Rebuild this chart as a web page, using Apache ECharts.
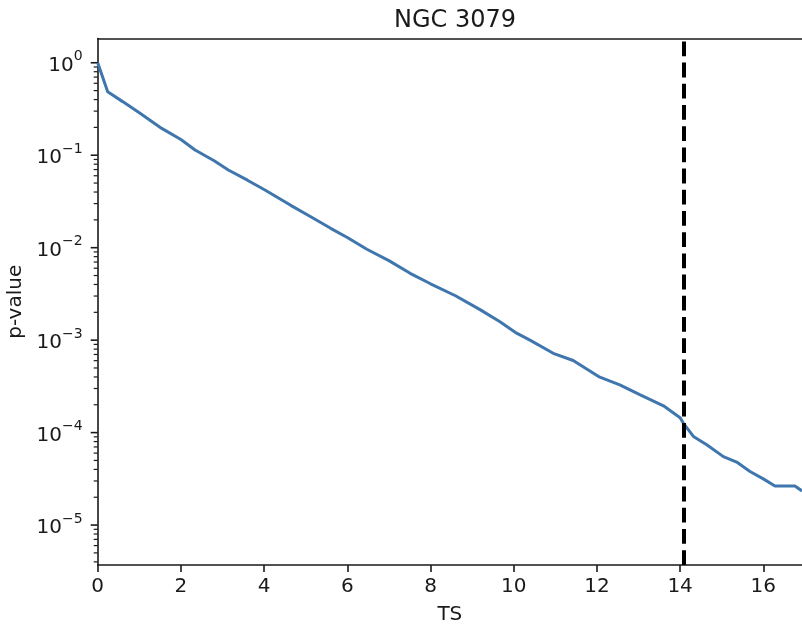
<!DOCTYPE html>
<html>
<head>
<meta charset="utf-8">
<script src="https://cdn.jsdelivr.net/npm/echarts@6/dist/echarts.min.js"></script>
<style>
  html, body { margin: 0; padding: 0; background: #fff; }
  #chart { width: 802px; height: 627px; }
</style>
</head>
<body>
<div id="chart"></div>
<script>
// values (TS vs p-value)
var ts = [0, 0.24, 0.6, 1.0, 1.54, 2.0, 2.34, 2.8, 3.14, 3.6, 4.02, 4.63, 5.1, 5.6, 6.0, 6.47,
  7.0, 7.51, 8.0, 8.6, 9.19, 9.67, 10.07, 10.39, 10.95, 11.43, 12.07, 12.55, 13.03, 13.6,
  14.0, 14.08, 14.32, 14.64, 15.04, 15.36, 15.68, 16.0, 16.28, 16.76, 16.93];
var pValue = [1.0, 0.485, 0.38, 0.288, 0.195, 0.148, 0.114, 0.0871, 0.0692, 0.0537, 0.0421,
  0.0289, 0.0219, 0.0162, 0.0129, 0.00962, 0.00724, 0.00528, 0.00407, 0.00302, 0.00214,
  0.00158, 0.00119, 0.00100, 0.000721, 0.000603, 0.000398, 0.000328, 0.000257, 0.000195,
  0.000145, 0.000126, 9.1e-5, 7.4e-5, 5.5e-5, 4.8e-5, 3.8e-5, 3.16e-5, 2.65e-5, 2.65e-5, 2.34e-5];
var threshold = 14.09;
var majorTicks = [1e-5, 1e-4, 1e-3, 1e-2, 1e-1, 1];
var minorTicks = [];
[-6, -5, -4, -3, -2, -1, 0].forEach(function (k) {
  for (var m = 2; m <= 9; m++) minorTicks.push(m * Math.pow(10, k));
});

var xMax = 16.93;
var yMin = 3.7e-6, yMax = 1.83;
var font = 'DejaVu Sans';
var ink = '#1a1a1a';

function tickItems() {
  var out = [];
  majorTicks.forEach(function (v) { out.push([0, v, 7]); });
  minorTicks.forEach(function (v) {
    if (v > yMin && v < yMax) out.push([0, v, 4]);
  });
  return out;
}

var spine = { show: true, lineStyle: { color: ink, width: 1.6 } };

var chart = echarts.init(document.getElementById('chart'));
chart.setOption({
  animation: false,
  backgroundColor: '#fff',
  title: {
    text: 'NGC 3079',
    left: 450,
    top: 4,
    textAlign: 'center',
    textStyle: { fontFamily: font, fontSize: 24, fontWeight: 'normal', color: ink }
  },
  grid: { left: 97.7, top: 38.5, right: 0, bottom: 62, outerBoundsMode: 'none', containLabel: false },
  xAxis: [
    {
      type: 'value', min: 0, max: xMax, interval: 2,
      name: 'TS', nameLocation: 'middle', nameGap: 40,
      nameTextStyle: { fontFamily: font, fontSize: 20, color: ink },
      axisLine: spine,
      axisTick: { show: true, length: 7, lineStyle: { color: ink, width: 1.6 } },
      axisLabel: { fontFamily: font, fontSize: 20, color: ink, margin: 12, showMaxLabel: false },
      splitLine: { show: false }
    },
    {
      // top spine only
      type: 'value', position: 'top', min: 0, max: xMax,
      axisLine: spine, axisTick: { show: false }, axisLabel: { show: false },
      splitLine: { show: false }
    }
  ],
  yAxis: {
    type: 'log', logBase: 10, min: yMin, max: yMax,
    name: 'p-value', nameLocation: 'middle', nameGap: 69,
    nameTextStyle: { fontFamily: font, fontSize: 20, color: ink },
    axisLine: spine,
    axisTick: { show: false },
    splitLine: { show: false },
    axisLabel: {
      showMinLabel: false, showMaxLabel: false, margin: 15,
      fontFamily: font, fontSize: 20, color: ink,
      formatter: function (v) {
        var e = Math.round(Math.log10(v));
        var s = String(e).replace('-', '\u2212');
        return '{b|10}{s|' + s + '}';
      },
      rich: {
        b: { fontFamily: font, fontSize: 20, color: ink, lineHeight: 26, verticalAlign: 'bottom' },
        s: { fontFamily: font, fontSize: 14, color: ink, lineHeight: 26, verticalAlign: 'top' }
      }
    }
  },
  series: [
    {
      type: 'line',
      data: ts.map(function (t, i) { return [t, pValue[i]]; }),
      showSymbol: false,
      lineStyle: { color: '#3f76ad', width: 3 },
      markLine: {
        silent: true, symbol: 'none', label: { show: false },
        lineStyle: { color: '#000', width: 4, type: [14.8, 6.4] },
        data: [{ xAxis: threshold }]
      }
    },
    {
      type: 'custom',
      clip: false,
      silent: true,
      data: tickItems(),
      renderItem: function (params, api) {
        var p = api.coord([api.value(0), api.value(1)]);
        var len = api.value(2);
        return {
          type: 'line',
          shape: { x1: p[0] - len, y1: p[1], x2: p[0], y2: p[1] },
          style: { stroke: ink, lineWidth: len > 5 ? 1.6 : 1.2 }
        };
      }
    }
  ]
});
</script>
</body>
</html>
